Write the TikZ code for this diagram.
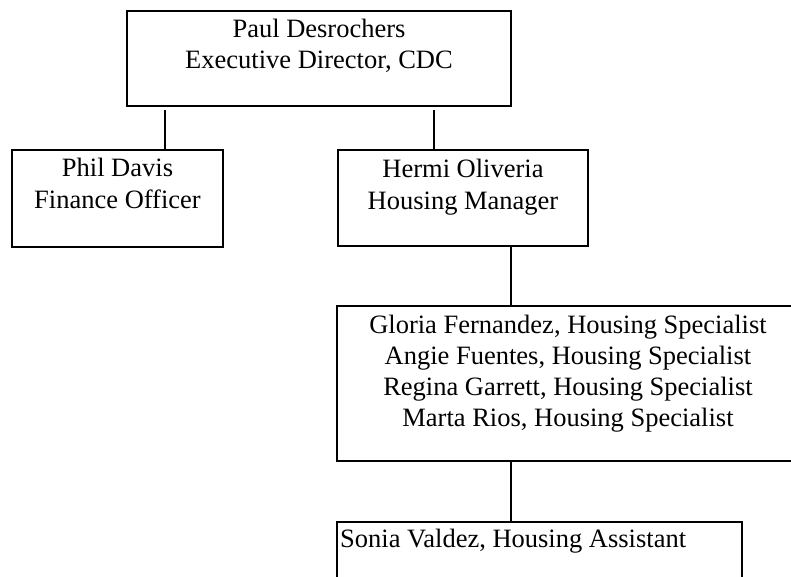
\documentclass[tikz,border=0pt]{standalone}
\usepackage{fontspec}
\setmainfont{Liberation Serif}
\tikzset{
  box/.style={draw=black, line width=2.6pt, rectangle, inner sep=0pt, fill=none},
  label/.style={inner sep=0pt, anchor=north, align=center, font=\fontsize{26.5}{31.2}\selectfont},
  link/.style={draw=black, line width=1.6pt},
}
\begin{document}
\begin{tikzpicture}[x=1pt, y=-1pt]
\clip (0,0) rectangle (791,576);
\fill[white] (0,0) rectangle (791,576);
% boxes
\node[box, minimum width=384pt, minimum height=95pt] (paul) at (319,58.5) {};
\node[box, minimum width=211pt, minimum height=97pt] (phil) at (117.5,198.5) {};
\node[box, minimum width=250pt, minimum height=96pt] (hermi) at (463,198) {};
\node[box, minimum width=462pt, minimum height=155pt] (spec) at (568,383.5) {};
\node[box, minimum width=405pt, minimum height=100pt] (sonia) at (539.5,572) {};
% texts
\node[label] (paul-t) at (319,15.2) {\strut Paul Desrochers\\Executive Director, CDC};
\node[label] (phil-t) at (117.5,154.9) {\strut Phil Davis\\Finance Officer};
\node[label] (hermi-t) at (463,155.9) {\strut Hermi Oliveria\\Housing Manager};
\node[label] (spec-t) at (568,311.2) {\strut Gloria Fernandez, Housing Specialist\\Angie Fuentes, Housing Specialist\\Regina Garrett, Housing Specialist\\Marta Rios, Housing Specialist};
\node[label, anchor=north west] (sonia-t) at (340,525.2) {\strut Sonia Valdez, Housing Assistant};
% connectors
\coordinate (c1) at (165,110);
\coordinate (c2) at (434,110);
\draw[link] (c1) -- (c1 |- phil.north);
\draw[link] (c2) -- (c2 |- hermi.north);
\draw[link] (hermi.south -| 511,0) -- (spec.north -| 511,0);
\draw[link] (spec.south -| 511,0) -- (sonia.north -| 511,0);
\end{tikzpicture}
\end{document}
